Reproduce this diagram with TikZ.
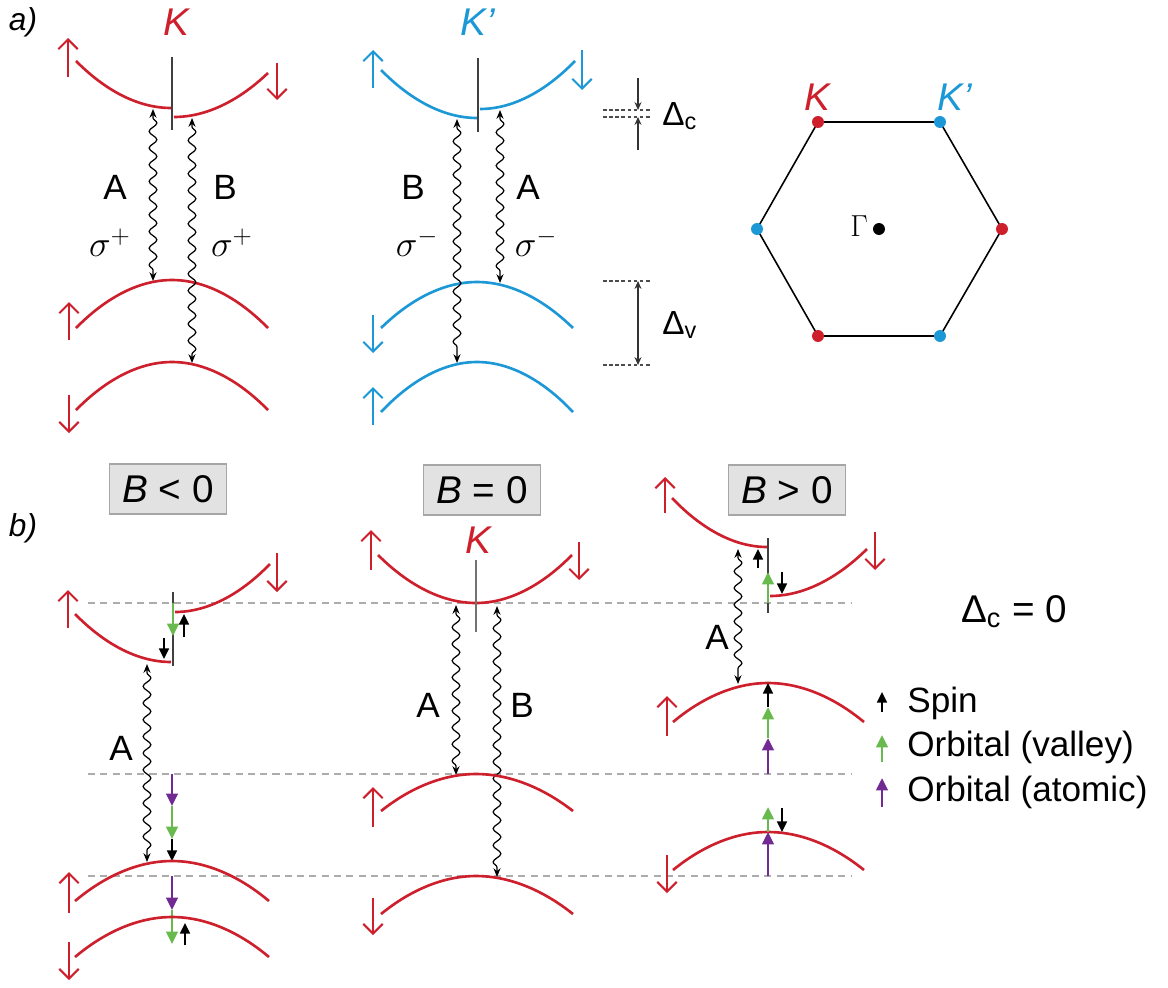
\documentclass[tikz,border=0pt]{standalone}
\usepackage{fontspec}
\setmainfont{Liberation Sans}
\usetikzlibrary{arrows.meta, decorations.pathmorphing}

\definecolor{kred}{RGB}{205,32,44}
\definecolor{kblue}{RGB}{28,152,214}
\definecolor{orbgreen}{RGB}{104,186,78}
\definecolor{orbpurple}{RGB}{112,42,146}
\definecolor{boxgray}{RGB}{226,226,226}

\newcommand{\sz}[1]{\fontsize{#1}{#1}\selectfont}
\newcommand{\dsub}[1]{Δ\textsubscript{#1}}

\begin{document}
\begin{tikzpicture}[x=0.02cm, y=-0.02cm,
		redband/.style={draw=kred, line width=1.5pt},
		blueband/.style={draw=kblue, line width=1.5pt},
		spinred/.style={kred, line width=1.2pt, -{Straight Barb[length=5.5pt, width=11pt]}},
		spinblue/.style={kblue, line width=1.2pt, -{Straight Barb[length=5.5pt, width=11pt]}},
		photon/.style={line width=0.7pt, {Stealth[length=5pt, width=4pt]}-{Stealth[length=5pt, width=4pt]},
			decorate, decoration={snake, amplitude=2.2pt, segment length=9.5pt, pre length=5pt, post length=5pt}},
		kline/.style={black!75, line width=0.7pt},
		eline/.style={gray!65, line width=0.9pt, dash pattern=on 4pt off 3pt},
		gapline/.style={black!70, line width=0.6pt, dash pattern=on 2pt off 1.5pt},
		gaparrow/.style={black!80, line width=0.6pt, -{Stealth[length=4.5pt, width=4pt]}},
		spn/.style={black, line width=1.3pt, -{Triangle[length=6pt, width=5.5pt]}},
		valley/.style={orbgreen, line width=1.6pt, -{Triangle[length=7pt, width=6.5pt]}},
		atomic/.style={orbpurple, line width=1.6pt, -{Triangle[length=7pt, width=6.5pt]}},
		trans/.style={font=\sz{20pt}},
		pol/.style={font=\sz{21pt}},
		valleylbl/.style={font=\sz{22pt}\itshape},
		panel/.style={font=\sz{18pt}\itshape},
		fieldbox/.style={draw=gray!70, fill=boxgray, line width=0.8pt, minimum width=2.34cm,
			minimum height=1cm, inner sep=0pt, font=\sz{22pt}},
		legendtxt/.style={font=\sz{20pt}, anchor=base west, inner sep=0pt}
	]
	\useasboundingbox (0,0) rectangle (1168,987);
	
	% --- a) valley K ---
	\node[panel] (lbla) at (23,22) {a)};
	\node[valleylbl, text=kred] (lblK) at (176,22) {K};
	\draw[redband] (76,61) parabola[bend at end] (171,108);
	\draw[redband] (174,117) parabola (268,73);
	\draw[kline] (172,57) -- (172,130);
	\draw[redband] (76,328) parabola bend (172,280) (268,328);
	\draw[redband] (76,410) parabola bend (172,362) (268,410);
	\draw[spinred] (68,77) -- (68,38);
	\draw[spinred] (277,63) -- (277,100);
	\draw[spinred] (69,340) -- (69,302);
	\draw[spinred] (69,395) -- (69,433);
	
	\coordinate (kA1) at (153,109);
	\coordinate (kA2) at (153,281);
	\coordinate (kB1) at (192,118);
	\coordinate (kB2) at (192,363);
	\draw[photon] (kA1) -- (kA2);
	\draw[photon] (kB1) -- (kB2);
	\node[trans] (tKA) at (115,187) {A};
	\node[pol] (pKA) at (110,243) {$\sigma^+$};
	\node[trans] (tKB) at (225,187) {B};
	\node[pol] (pKB) at (232,243) {$\sigma^+$};
	
	% --- a) valley K' ---
	\node[valleylbl, text=kblue] (lblKp) at (478,22) {K’};
	\draw[blueband] (381,70) parabola[bend at end] (477,118);
	\draw[blueband] (480,109) parabola (575,61);
	\draw[kline] (478,58) -- (478,132);
	\draw[blueband] (381,328) parabola bend (477,282) (573,328);
	\draw[blueband] (381,412) parabola bend (477,362) (573,412);
	\draw[spinblue] (373,88) -- (373,50);
	\draw[spinblue] (582,50) -- (582,90);
	\draw[spinblue] (373,315) -- (373,353);
	\draw[spinblue] (373,425) -- (373,387);
	
	\coordinate (pB1) at (457,119);
	\coordinate (pB2) at (457,363);
	\coordinate (pA1) at (500,110);
	\coordinate (pA2) at (500,283);
	\draw[photon] (pB1) -- (pB2);
	\draw[photon] (pA1) -- (pA2);
	\node[trans] (tKpB) at (413,187) {B};
	\node[pol] (pKpB) at (417,243) {$\sigma^-$};
	\node[trans] (tKpA) at (528,187) {A};
	\node[pol] (pKpA) at (536,243) {$\sigma^-$};
	
	% --- splittings ---
	\draw[gapline] (603,110) -- (650,110);
	\draw[gapline] (603,117) -- (650,117);
	\draw[gaparrow] (638,78) -- (638,110);
	\draw[gaparrow] (638,150) -- (638,117);
	\node[font=\sz{19pt}, anchor=base west, inner sep=0pt] (dc) at (662,125) {\dsub{c}};
	\draw[gapline] (603,281) -- (650,281);
	\draw[gapline] (603,365) -- (650,365);
	\draw[gaparrow, {Stealth[length=4.5pt, width=4pt]}-{Stealth[length=4.5pt, width=4pt]}] (638,281) -- (638,365);
	\node[font=\sz{19pt}, anchor=base west, inner sep=0pt] (dv) at (662,334) {\dsub{v}};
	
	% --- Brillouin zone ---
	\coordinate (h1) at (818,122);
	\coordinate (h2) at (940,122);
	\coordinate (h3) at (1002,229);
	\coordinate (h4) at (940,336);
	\coordinate (h5) at (818,336);
	\coordinate (h6) at (757,229);
	\draw[line width=0.9pt] (h1) -- (h2) -- (h3) -- (h4) -- (h5) -- (h6) -- cycle;
	\foreach \v/\c in {h1/kred, h2/kblue, h3/kred, h4/kblue, h5/kred, h6/kblue}
	\fill[\c] (\v) circle (3.4pt);
	\node[valleylbl, text=kred] (hexK) at (817,97) {K};
	\node[valleylbl, text=kblue] (hexKp) at (955,97) {K’};
	\fill (879,229) circle (3.4pt);
	\node[font=\sz{19pt}] (gam) at (859,226) {$\Gamma$};
	
	% --- b) field boxes and levels ---
	\node[panel] (lblb) at (23,528) {b)};
	\node[fieldbox] (bneg) at (168,489) {\textit{B} < 0};
	\node[fieldbox] (bzero) at (482,490) {\textit{B} = 0};
	\node[fieldbox] (bpos) at (787,490) {\textit{B} > 0};
	\foreach \y in {603, 774, 876}
	\draw[eline] (88,\y) -- (851,\y);
	
	% --- B < 0 ---
	\draw[redband] (75,614) parabola[bend at end] (171,662);
	\draw[redband] (175,612) parabola (270,564);
	\draw[kline] (173,592) -- (173,666);
	\draw[spinred] (68,628) -- (68,590);
	\draw[spinred] (277,553) -- (277,592);
	\draw[valley] (173,603) -- (173,636);
	\draw[spn] (164,638) -- (164,659);
	\draw[spn] (184,637) -- (184,614);
	\coordinate (nA1) at (147,664);
	\coordinate (nA2) at (147,862);
	\draw[photon] (nA1) -- (nA2);
	\node[trans] (tnA) at (121,748) {A};
	\draw[atomic] (172,774) -- (172,806);
	\draw[valley] (172,806) -- (172,839);
	\draw[spn] (172,839) -- (172,861);
	\draw[redband] (75,901) parabola bend (172,861) (269,901);
	\draw[atomic] (172,876) -- (172,910);
	\draw[valley] (172,910) -- (172,944);
	\draw[redband] (75,957) parabola bend (172,917) (269,957);
	\draw[spn] (185,945) -- (185,923);
	\draw[spinred] (69,913) -- (69,872);
	\draw[spinred] (69,942) -- (69,980);
	
	% --- B = 0 ---
	\node[valleylbl, text=kred] (zK) at (478,540) {K};
	\draw[redband] (378,555) parabola bend (476,603) (572,555);
	\draw[kline, black!55] (476,560) -- (476,632);
	\draw[spinred] (371,570) -- (371,530);
	\draw[spinred] (579,542) -- (579,580);
	\coordinate (zA1) at (456,605);
	\coordinate (zA2) at (456,775);
	\coordinate (zB1) at (497,606);
	\coordinate (zB2) at (497,877);
	\draw[photon] (zA1) -- (zA2);
	\draw[photon] (zB1) -- (zB2);
	\node[trans] (tzA) at (428,705) {A};
	\node[trans] (tzB) at (522,705) {B};
	\draw[redband] (381,811) parabola bend (476,774) (573,811);
	\draw[redband] (381,914) parabola bend (476,876) (573,914);
	\draw[spinred] (373,827) -- (373,787);
	\draw[spinred] (373,898) -- (373,935);
	
	% --- B > 0 ---
	\draw[redband] (672,498) parabola[bend at end] (767,547);
	\draw[redband] (770,596) parabola (867,549);
	\draw[kline] (768,538) -- (768,613);
	\draw[spinred] (665,513) -- (665,477);
	\draw[spinred] (875,532) -- (875,570);
	\draw[spn] (758,568) -- (758,549);
	\draw[valley] (768,603) -- (768,572);
	\draw[spn] (782,572) -- (782,594);
	\coordinate (pzA1) at (738,549);
	\coordinate (pzA2) at (738,684);
	\draw[photon] (pzA1) -- (pzA2);
	\node[trans] (tpA) at (717,637) {A};
	\draw[redband] (673,722) parabola bend (768,683) (864,722);
	\draw[atomic] (768,774) -- (768,738);
	\draw[valley] (768,738) -- (768,707);
	\draw[spn] (768,707) -- (768,683);
	\draw[spinred] (667,736) -- (667,696);
	\draw[redband] (673,870) parabola bend (768,832) (864,870);
	\draw[atomic] (768,876) -- (768,832);
	\draw[valley] (768,832) -- (768,807);
	\draw[spn] (782,808) -- (782,832);
	\draw[spinred] (667,855) -- (667,893);
	
	% --- legend ---
	\node[font=\sz{22pt}, anchor=base] (dczero) at (1014,622) {\dsub{c} = 0};
	\draw[spn] (882,712) -- (882,692);
	\node[legendtxt] (lspin) at (907,712) {Spin};
	\draw[valley] (882,762) -- (882,735);
	\node[legendtxt] (lval) at (907,756) {Orbital (valley)};
	\draw[atomic] (882,807) -- (882,778);
	\node[legendtxt] (lat) at (907,801) {Orbital (atomic)};
	
\end{tikzpicture}
\end{document}
